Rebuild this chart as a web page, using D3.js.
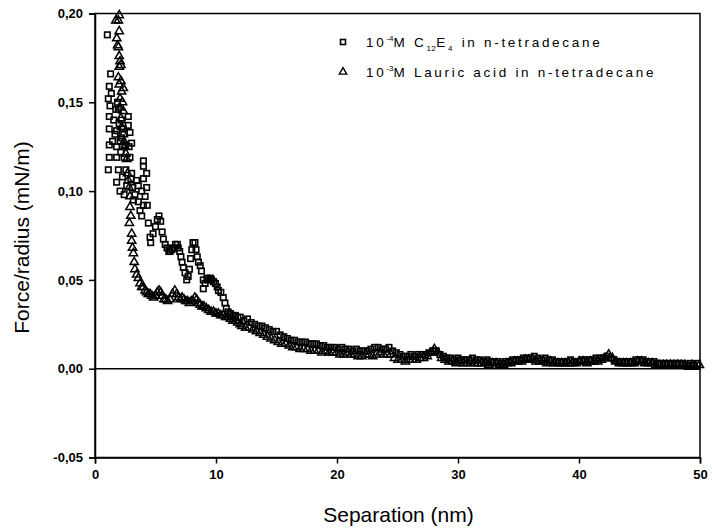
<!DOCTYPE html>
<html>
<head>
<meta charset="utf-8">
<script src="https://cdn.jsdelivr.net/npm/d3@7"></script>
<style>
  html, body { margin: 0; padding: 0; background: #fff; }
  svg { display: block; }
  text { font-family: "Liberation Sans", Arial, sans-serif; fill: #000; }
</style>
</head>
<body>
<div id="chart"></div>
<script>
// Separation (nm) vs force/radius (mN/m)
const xTicks = [0, 10, 20, 30, 40, 50];
const yTicks = [-0.05, 0.00, 0.05, 0.10, 0.15, 0.20];

// 10^-4 M C12E4 in n-tetradecane : [separation, force/radius]
const c12e4 = [
  [1.02,0.188],[1.10,0.152],[1.10,0.112],[1.18,0.159],[1.18,0.142],[1.18,0.135],[1.18,0.126],[1.18,0.119],
  [1.24,0.148],[1.29,0.166],[1.35,0.155],[1.45,0.128],[1.55,0.140],[1.65,0.132],[1.72,0.146],[1.79,0.134],
  [1.79,0.125],[1.79,0.119],[1.79,0.105],[1.86,0.150],[1.93,0.146],[1.93,0.112],[2.00,0.138],[2.07,0.128],
  [2.07,0.100],[2.13,0.122],[2.20,0.140],[2.20,0.130],[2.27,0.125],[2.27,0.108],[2.34,0.135],[2.41,0.119],
  [2.41,0.098],[2.48,0.126],[2.55,0.112],[2.62,0.103],[2.75,0.142],[2.75,0.137],[2.82,0.125],[2.89,0.133],
  [2.89,0.119],[2.96,0.107],[3.03,0.127],[3.03,0.110],[3.10,0.102],[3.17,0.095],[3.30,0.098],[3.44,0.106],
  [3.58,0.103],[3.58,0.094],[3.72,0.089],[3.86,0.100],[3.86,0.086],[4.00,0.117],[4.00,0.114],[4.00,0.107],
  [4.00,0.092],[4.14,0.097],[4.27,0.110],[4.27,0.102],[4.32,0.092],[4.41,0.082],[4.55,0.074],[4.60,0.071],
  [4.80,0.076],[5.00,0.080],[5.15,0.084],[5.29,0.086],[5.43,0.083],[5.55,0.077],[5.65,0.073],[5.80,0.070],
  [5.95,0.068],[6.10,0.066],[6.20,0.066],[6.35,0.067],[6.50,0.068],[6.65,0.070],[6.80,0.070],[6.88,0.068],
  [7.00,0.066],[7.10,0.063],[7.20,0.060],[7.30,0.057],[7.44,0.054],[7.58,0.050],[7.70,0.052],[7.80,0.056],
  [7.90,0.062],[8.00,0.067],[8.10,0.071],[8.26,0.071],[8.35,0.067],[8.45,0.063],[8.55,0.060],[8.70,0.058],
  [8.80,0.055],[8.95,0.050],[8.95,0.045],[9.10,0.048],[9.25,0.051],[9.40,0.050],[9.55,0.051],[9.64,0.050],
  [9.80,0.049],[9.95,0.048],[10.10,0.046],[10.20,0.044],[10.40,0.043],[10.60,0.040],[10.74,0.037],[10.85,0.034],
  [11.00,0.032],[11.20,0.031],[11.40,0.030],[11.60,0.030],[11.80,0.029],[12.00,0.029],[12.30,0.027],[12.60,0.028],
  [12.90,0.026],[13.20,0.025],[13.50,0.024],[13.80,0.024],[14.10,0.023],[14.40,0.022],[14.70,0.021],[15.00,0.021],
  [15.30,0.019],[15.60,0.018],[15.90,0.017],[16.20,0.016],[16.50,0.016],[16.80,0.015],[17.10,0.015],[17.40,0.015],
  [17.70,0.014],[18.00,0.014],[18.30,0.014],[18.60,0.013],[18.90,0.013],[19.20,0.012],[19.50,0.012],[19.80,0.012],
  [20.10,0.011],[20.40,0.012],[20.70,0.011],[21.00,0.011],[21.30,0.010],[21.60,0.011],[21.90,0.010],[22.20,0.010],
  [22.50,0.010],[22.80,0.011],[23.10,0.012],[23.40,0.012],[23.70,0.011],[24.00,0.011],[24.30,0.012],[24.60,0.010],
  [24.90,0.009],[25.20,0.008],[25.50,0.007],[25.80,0.007],[26.10,0.008],[26.40,0.007],[26.70,0.008],[27.00,0.008],
  [27.30,0.008],[27.60,0.009],[27.90,0.010],[28.20,0.010],[28.50,0.008],[28.80,0.007],[29.10,0.006],[29.40,0.006],
  [29.70,0.005],[30.00,0.006],[30.30,0.005],[30.60,0.005],[30.90,0.005],[31.20,0.006],[31.50,0.005],[31.80,0.005],
  [32.10,0.004],[32.40,0.005],[32.70,0.004],[33.00,0.004],[33.30,0.004],[33.60,0.003],[33.90,0.004],[34.20,0.004],
  [34.50,0.005],[34.80,0.005],[35.10,0.005],[35.40,0.006],[35.70,0.006],[36.00,0.006],[36.30,0.007],[36.60,0.006],
  [36.90,0.005],[37.20,0.006],[37.50,0.005],[37.80,0.005],[38.10,0.004],[38.40,0.004],[38.70,0.004],[39.00,0.004],
  [39.30,0.005],[39.60,0.004],[39.90,0.004],[40.20,0.005],[40.50,0.005],[40.80,0.005],[41.10,0.005],[41.40,0.006],
  [41.70,0.006],[42.00,0.006],[42.30,0.007],[42.60,0.006],[42.90,0.005],[43.20,0.004],[43.50,0.004],[43.80,0.004],
  [44.10,0.004],[44.40,0.004],[44.70,0.005],[45.00,0.005],[45.30,0.005],[45.60,0.004],[45.90,0.004],[46.20,0.004],
  [46.50,0.003],[46.80,0.003],[47.10,0.003],[47.40,0.003],[47.70,0.003],[48.00,0.003],[48.30,0.003],[48.60,0.003],
  [48.90,0.002],[49.20,0.003],[49.50,0.002],[49.80,0.003]
];

// 10^-3 M lauric acid in n-tetradecane : [separation, force/radius]
const lauric = [
  [1.72,0.196],[1.80,0.186],[1.86,0.182],[1.93,0.196],[1.93,0.181],[1.93,0.164],[2.00,0.199],[2.00,0.190],
  [2.00,0.176],[2.00,0.170],[2.00,0.160],[2.07,0.173],[2.07,0.152],[2.07,0.147],[2.14,0.171],[2.14,0.162],
  [2.14,0.141],[2.20,0.156],[2.20,0.136],[2.27,0.150],[2.34,0.158],[2.34,0.145],[2.34,0.132],[2.41,0.128],
  [2.48,0.125],[2.55,0.121],[2.62,0.118],[2.69,0.110],[2.75,0.106],[2.82,0.102],[2.84,0.082],[2.89,0.097],
  [2.89,0.091],[2.96,0.086],[3.03,0.076],[3.03,0.072],[3.10,0.068],[3.17,0.065],[3.24,0.060],[3.30,0.056],
  [3.44,0.053],[3.58,0.051],[3.72,0.048],[3.86,0.046],[4.00,0.046],[4.14,0.044],[4.27,0.043],[4.41,0.042],
  [4.55,0.042],[4.70,0.041],[4.85,0.040],[5.00,0.041],[5.15,0.043],[5.29,0.044],[5.43,0.043],[5.55,0.041],
  [5.70,0.039],[5.85,0.039],[6.00,0.038],[6.20,0.039],[6.40,0.042],[6.60,0.044],[6.75,0.042],[6.90,0.040],
  [7.05,0.039],[7.20,0.040],[7.35,0.039],[7.50,0.038],[7.65,0.038],[7.80,0.037],[7.95,0.038],[8.10,0.038],
  [8.25,0.040],[8.40,0.039],[8.55,0.037],[8.70,0.036],[8.85,0.035],[9.00,0.035],[9.20,0.034],[9.40,0.033],
  [9.60,0.032],[9.80,0.032],[10.00,0.031],[10.20,0.031],[10.40,0.030],[10.60,0.030],[10.80,0.029],[11.00,0.029],
  [11.20,0.028],[11.40,0.027],[11.60,0.027],[11.80,0.026],[12.00,0.025],[12.15,0.024],[12.45,0.023],[12.75,0.023],
  [13.05,0.022],[13.35,0.021],[13.65,0.020],[13.95,0.019],[14.25,0.018],[14.55,0.017],[14.85,0.016],[15.15,0.015],
  [15.45,0.014],[15.75,0.014],[16.05,0.013],[16.35,0.012],[16.65,0.012],[16.95,0.011],[17.25,0.011],[17.55,0.011],
  [17.85,0.010],[18.15,0.010],[18.45,0.010],[18.75,0.009],[19.05,0.010],[19.35,0.009],[19.65,0.009],[19.95,0.009],
  [20.25,0.008],[20.55,0.008],[20.85,0.009],[21.15,0.008],[21.45,0.008],[21.75,0.007],[22.05,0.007],[22.35,0.008],
  [22.65,0.008],[22.95,0.007],[23.25,0.008],[23.55,0.009],[23.85,0.008],[24.15,0.008],[24.45,0.008],[24.75,0.006],
  [25.05,0.005],[25.35,0.005],[25.65,0.004],[25.95,0.005],[26.25,0.005],[26.55,0.005],[26.85,0.006],[27.15,0.006],
  [27.45,0.007],[27.75,0.009],[28.05,0.011],[28.35,0.009],[28.65,0.006],[28.95,0.005],[29.25,0.004],[29.55,0.004],
  [29.85,0.003],[30.15,0.004],[30.45,0.003],[30.75,0.003],[31.05,0.004],[31.35,0.003],[31.65,0.003],[31.95,0.003],
  [32.25,0.003],[32.55,0.002],[32.85,0.003],[33.15,0.003],[33.45,0.002],[33.75,0.002],[34.05,0.003],[34.35,0.003],
  [34.65,0.004],[34.95,0.004],[35.25,0.004],[35.55,0.005],[35.85,0.005],[36.15,0.005],[36.45,0.004],[36.75,0.004],
  [37.05,0.004],[37.35,0.003],[37.65,0.004],[37.95,0.003],[38.25,0.003],[38.55,0.003],[38.85,0.003],[39.15,0.003],
  [39.45,0.003],[39.75,0.003],[40.05,0.004],[40.35,0.004],[40.65,0.003],[40.95,0.004],[41.25,0.004],[41.55,0.004],
  [41.85,0.005],[42.15,0.006],[42.45,0.008],[42.75,0.006],[43.05,0.004],[43.35,0.003],[43.65,0.003],[43.95,0.003],
  [44.25,0.003],[44.55,0.003],[44.85,0.004],[45.15,0.004],[45.45,0.003],[45.75,0.003],[46.05,0.003],[46.35,0.002],
  [46.65,0.002],[46.95,0.002],[47.25,0.002],[47.55,0.002],[47.85,0.002],[48.15,0.002],[48.45,0.002],[48.75,0.002],
  [49.05,0.001],[49.35,0.002],[49.65,0.001],[49.95,0.002]
];

const W = 712, H = 531;
const margin = { top: 13.5, right: 12, bottom: 73.5, left: 95 };

const svg = d3.select("#chart").append("svg")
  .attr("width", W).attr("height", H);

const x = d3.scaleLinear().domain([0, 50]).range([margin.left, W - margin.right]);
const y = d3.scaleLinear().domain([-0.05, 0.20]).range([H - margin.bottom, margin.top]);

const fmtY = v => d3.format(".2f")(v).replace(".", ",").replace("−", "-");

// frame
svg.append("rect")
  .attr("x", x(0)).attr("y", y(0.20))
  .attr("width", x(50) - x(0)).attr("height", y(-0.05) - y(0.20))
  .attr("fill", "none").attr("stroke", "#000").attr("stroke-width", 1.5);

// zero line
svg.append("line")
  .attr("x1", x(0)).attr("x2", x(50))
  .attr("y1", y(0)).attr("y2", y(0))
  .attr("stroke", "#000").attr("stroke-width", 1.5);

// axes
const xAxis = svg.append("g")
  .attr("transform", `translate(0,${y(-0.05)})`)
  .call(d3.axisBottom(x).tickValues(xTicks).tickSize(6).tickPadding(6).tickFormat(d3.format("d")));
const yAxis = svg.append("g")
  .attr("transform", `translate(${x(0)},0)`)
  .call(d3.axisLeft(y).tickValues(yTicks).tickSize(6).tickPadding(6).tickFormat(fmtY));

[xAxis, yAxis].forEach(g => {
  g.select(".domain").attr("stroke", "#000").attr("stroke-width", 1.5);
  g.selectAll(".tick line").attr("stroke", "#000").attr("stroke-width", 1.5);
  g.selectAll(".tick text")
    .attr("font-family", "'Liberation Sans', Arial, sans-serif")
    .attr("font-size", 13).attr("font-weight", "bold").attr("fill", "#000");
});

// axis titles
svg.append("text")
  .attr("x", (x(0) + x(50)) / 2 + 1).attr("y", 522)
  .attr("text-anchor", "middle").attr("font-size", 21)
  .text("Separation (nm)");
svg.append("text")
  .attr("transform", `translate(29,${(y(0.20) + y(-0.05)) / 2 + 2}) rotate(-90)`)
  .attr("text-anchor", "middle").attr("font-size", 21)
  .text("Force/radius (mN/m)");

// markers
const plot = svg.append("g");
const sq = 5.5;
plot.selectAll("rect.c12")
  .data(c12e4).join("rect")
  .attr("class", "c12")
  .attr("x", d => x(d[0]) - sq / 2).attr("y", d => y(d[1]) - sq / 2)
  .attr("width", sq).attr("height", sq)
  .attr("fill", "none").attr("stroke", "#000").attr("stroke-width", 1.6);

const tri = d3.symbol().type(d3.symbolTriangle).size(30);
plot.selectAll("path.lauric")
  .data(lauric).join("path")
  .attr("class", "lauric")
  .attr("transform", d => `translate(${x(d[0])},${y(d[1])})`)
  .attr("d", tri)
  .attr("fill", "none").attr("stroke", "#000").attr("stroke-width", 1.5);

// legend
const leg = svg.append("g");
leg.append("rect")
  .attr("x", 343 - 2.5).attr("y", 42 - 2.5).attr("width", 5).attr("height", 5)
  .attr("fill", "none").attr("stroke", "#000").attr("stroke-width", 1.6);
leg.append("path")
  .attr("transform", "translate(343,72)").attr("d", d3.symbol().type(d3.symbolTriangle).size(24))
  .attr("fill", "none").attr("stroke", "#000").attr("stroke-width", 1.4);

const t1 = leg.append("text").attr("x", 366).attr("y", 47)
  .attr("font-size", 13.5).attr("letter-spacing", 2.7);
t1.append("tspan").text("10");
t1.append("tspan").attr("dy", -6).attr("font-size", 8).attr("letter-spacing", 0).text("-4");
t1.append("tspan").attr("dy", 6).text("M  C");
t1.append("tspan").attr("dy", 4).attr("font-size", 8).attr("letter-spacing", 0.5).text("12");
t1.append("tspan").attr("dy", -4).text("E");
t1.append("tspan").attr("dy", 4).attr("font-size", 8).text("4");
t1.append("tspan").attr("dy", -4).text(" in n-tetradecane");

const t2 = leg.append("text").attr("x", 366).attr("y", 77)
  .attr("font-size", 13.5).attr("letter-spacing", 2.7);
t2.append("tspan").text("10");
t2.append("tspan").attr("dy", -6).attr("font-size", 8).attr("letter-spacing", 0).text("-3");
t2.append("tspan").attr("dy", 6).text("M  Lauric acid in n-tetradecane");
</script>
</body>
</html>
